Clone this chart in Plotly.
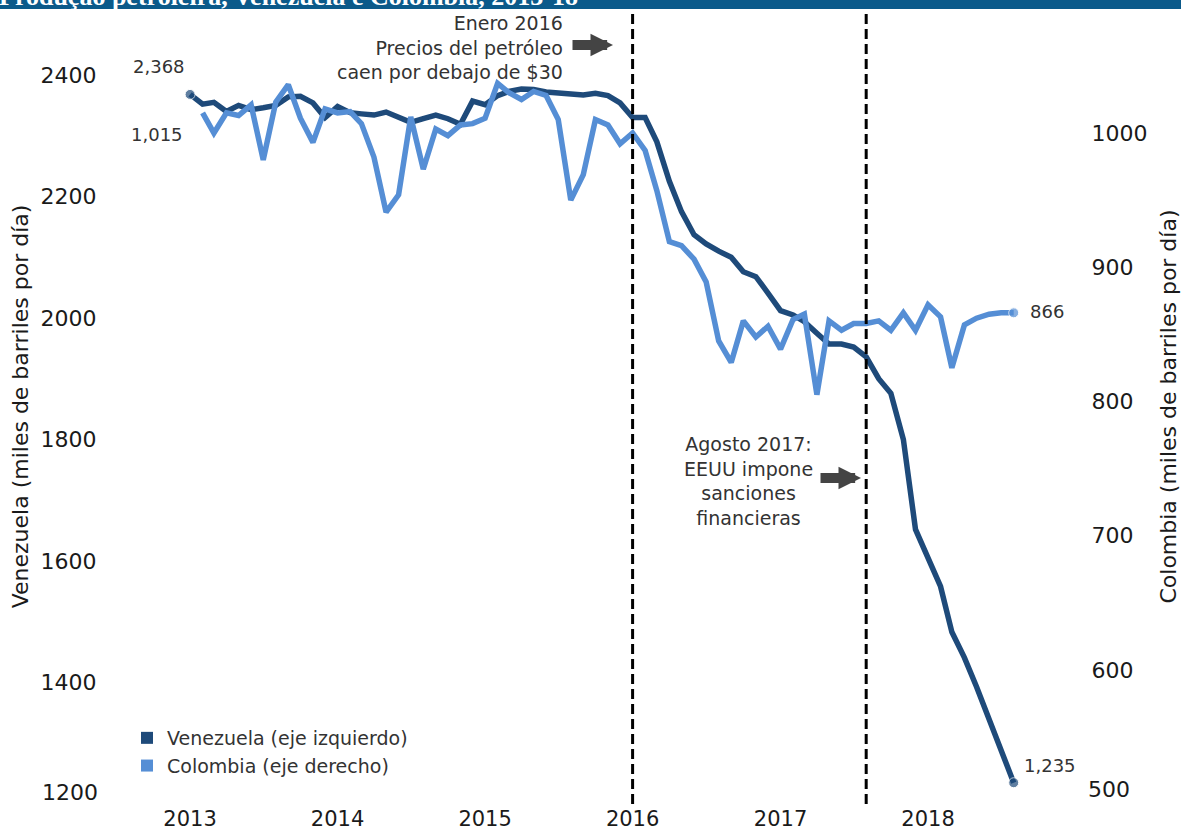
import pandas as pd
import plotly.graph_objects as go

# ---------------- data ----------------
ven_dates = pd.date_range("2013-01-01", "2018-08-01", freq="MS")
venezuela = [2368, 2352, 2355, 2340, 2350, 2343, 2346, 2350, 2364, 2365, 2354, 2330,
             2348, 2338, 2336, 2334, 2339, 2331, 2322, 2328, 2334, 2328, 2319, 2357,
             2351, 2366, 2373, 2377, 2376, 2372, 2370, 2367, 2367, 2370, 2366, 2354,
             2330, 2330, 2290, 2225, 2175, 2137, 2122, 2110, 2100, 2076, 2068, 2041,
             2012, 2005, 1994, 1975, 1957, 1957, 1952, 1936, 1900, 1876, 1800, 1652,
             1607, 1558, 1483, 1441, 1393, 1339, 1289, 1235]

col_dates = pd.date_range("2013-02-01", "2018-08-01", freq="MS")
colombia = [1015, 1000, 1015, 1013, 1021, 980, 1023, 1036, 1011, 993, 1018,
            1015, 1016, 1007, 982, 941, 954, 1012, 973, 1003, 998, 1006, 1007,
            1011, 1037, 1030, 1025, 1031, 1028, 1010, 950, 969, 1010, 1006, 992,
            1000, 987, 957, 919, 916, 906, 889, 845, 829, 860, 848, 856,
            839, 861, 865, 805, 860, 853, 858, 858, 860, 853, 866, 853,
            872, 863, 825, 857, 862, 865, 866, 866]

year_ticks = ["2013-01-01", "2014-01-01", "2015-01-01", "2016-01-01", "2017-01-01", "2018-01-01"]
left_ticks = [1400, 1600, 1800, 2000, 2200, 2400]
right_ticks = [600, 700, 800, 900, 1000]
event_dates = ["2016-01-01", "2017-08-01"]

# ---------------- layout geometry (pixels) ----------------
W, H = 1181, 837
L, R, T, B = 104, 1082, 9, 804
def px_x(p):
    return (p - L) / (R - L)
def px_y(p):
    return (B - p) / (B - T)

DARK = "#1e4a7a"
LIGHT = "#558ed5"
FONT = "DejaVu Sans"
TXT = "#1a1a1a"
ANN = "#333333"

fig = go.Figure()

vs = [0] * len(venezuela)
vs[0] = 10
vs[-1] = 10
fig.add_trace(go.Scatter(x=ven_dates, y=venezuela, mode="lines+markers",
                         line=dict(color=DARK, width=5.5),
                         marker=dict(size=vs, color=DARK), showlegend=False,
                         yaxis="y"))
cs = [0] * len(colombia)
cs[-1] = 10
fig.add_trace(go.Scatter(x=col_dates, y=colombia, mode="lines+markers",
                         line=dict(color=LIGHT, width=5.5),
                         marker=dict(size=cs, color=LIGHT), showlegend=False,
                         yaxis="y2"))

# legend entries (square swatches)
fig.add_trace(go.Scatter(x=[None], y=[None], mode="markers", name="Venezuela (eje izquierdo)",
                         marker=dict(symbol="square", size=15, color=DARK)))
fig.add_trace(go.Scatter(x=[None], y=[None], mode="markers", name="Colombia (eje derecho)",
                         marker=dict(symbol="square", size=15, color=LIGHT), yaxis="y2"))

# event lines
for d in event_dates:
    fig.add_shape(type="line", xref="x", yref="paper", x0=d, x1=d, y0=0, y1=1,
                  line=dict(color="black", width=3, dash="10px,5px"))

# header bar
fig.add_shape(type="rect", xref="paper", yref="paper", x0=px_x(0), x1=px_x(W),
              y0=px_y(9), y1=px_y(-5), fillcolor="#0b5a8a", line=dict(width=0), layer="above")

annotations = [
    dict(text="<b>Produção petroleira, Venezuela e Colombia, 2013-18</b>", xref="paper", yref="paper",
         x=px_x(-3), y=px_y(-4), xanchor="left", yanchor="middle", showarrow=False,
         font=dict(family="Liberation Serif", size=26, color="white")),
    dict(text="Enero 2016<br>Precios del petróleo<br>caen por debajo de $30", xref="paper", yref="paper",
         x=px_x(565), y=px_y(48), xanchor="right", yanchor="middle", align="right", showarrow=False,
         font=dict(family=FONT, size=19, color=ANN)),
    dict(text="Agosto 2017:<br>EEUU impone<br>sanciones<br>financieras", xref="paper", yref="paper",
         x=px_x(748), y=px_y(481), xanchor="center", yanchor="middle", align="center", showarrow=False,
         font=dict(family=FONT, size=19, color=ANN)),
    dict(text="", xref="paper", yref="paper", x=px_x(613), y=px_y(45), ax=-42, ay=0,
         showarrow=True, arrowhead=2, arrowsize=0.45, arrowwidth=10, arrowcolor="#444444", standoff=0),
    dict(text="", xref="paper", yref="paper", x=px_x(861), y=px_y(478), ax=-42, ay=0,
         showarrow=True, arrowhead=2, arrowsize=0.45, arrowwidth=10, arrowcolor="#444444", standoff=0),
    # data labels
    dict(text=f"{venezuela[0]:,}", x=ven_dates[0], y=venezuela[0], xref="x", yref="y",
         xshift=-31, yshift=28, showarrow=False, font=dict(family=FONT, size=18, color=ANN)),
    dict(text=f"{colombia[0]:,}", x=col_dates[0], y=colombia[0], xref="x", yref="y2",
         xshift=-46, yshift=-22, showarrow=False, font=dict(family=FONT, size=18, color=ANN)),
    dict(text=f"{colombia[-1]:,}", x=col_dates[-1], y=colombia[-1], xref="x", yref="y2",
         xshift=14, yshift=1, xanchor="left", showarrow=False, font=dict(family=FONT, size=18, color=ANN)),
    dict(text=f"{venezuela[-1]:,}", x=ven_dates[-1], y=venezuela[-1], xref="x", yref="y",
         xshift=8, yshift=17, xanchor="left", showarrow=False, font=dict(family=FONT, size=18, color=ANN)),
    # bottom tick labels (lifted as in the original)
    dict(text="1200", xref="paper", yref="paper", x=px_x(100), y=px_y(792), xanchor="right",
         yanchor="middle", showarrow=False, font=dict(family=FONT, size=22, color=TXT)),
    dict(text="500", xref="paper", yref="paper", x=px_x(1086), y=px_y(789), xanchor="left",
         yanchor="middle", showarrow=False, font=dict(family=FONT, size=22, color=TXT)),
]

fig.update_layout(
    width=W, height=H,
    margin=dict(l=L, r=W - R, t=T, b=H - B, autoexpand=False),
    paper_bgcolor="white", plot_bgcolor="white",
    font=dict(family=FONT, size=22, color=TXT),
    showlegend=True,
    legend=dict(x=px_x(127), y=px_y(719), xanchor="left", yanchor="top",
                font=dict(family=FONT, size=19, color=ANN), bgcolor="rgba(0,0,0,0)",
                tracegroupgap=0, itemsizing="constant"),
    xaxis=dict(type="date", range=["2012-06-02", "2019-01-17"], tickvals=year_ticks,
               tickformat="%Y", showgrid=False, zeroline=False, showline=False,
               ticks="", ticklen=0,
               tickfont=dict(family=FONT, size=21, color=TXT)),
    yaxis=dict(range=[1200, 2508.6], tickvals=left_ticks, showgrid=False, zeroline=False,
               showline=False, ticks="outside", ticklen=2, tickcolor="rgba(0,0,0,0)",
               tickfont=dict(family=FONT, size=22, color=TXT),
               title=dict(text="Venezuela (miles de barriles por día)", standoff=5,
                          font=dict(family=FONT, size=22, color=TXT))),
    yaxis2=dict(range=[500, 1092.4], tickvals=right_ticks, overlaying="y", side="right",
                showgrid=False, zeroline=False, showline=False, ticks="outside", ticklen=4,
                tickcolor="rgba(0,0,0,0)", tickfont=dict(family=FONT, size=22, color=TXT),
                title=dict(text="Colombia (miles de barriles por día)", standoff=14,
                           font=dict(family=FONT, size=22, color=TXT))),
    annotations=annotations,
)

fig.write_html("out.html")
